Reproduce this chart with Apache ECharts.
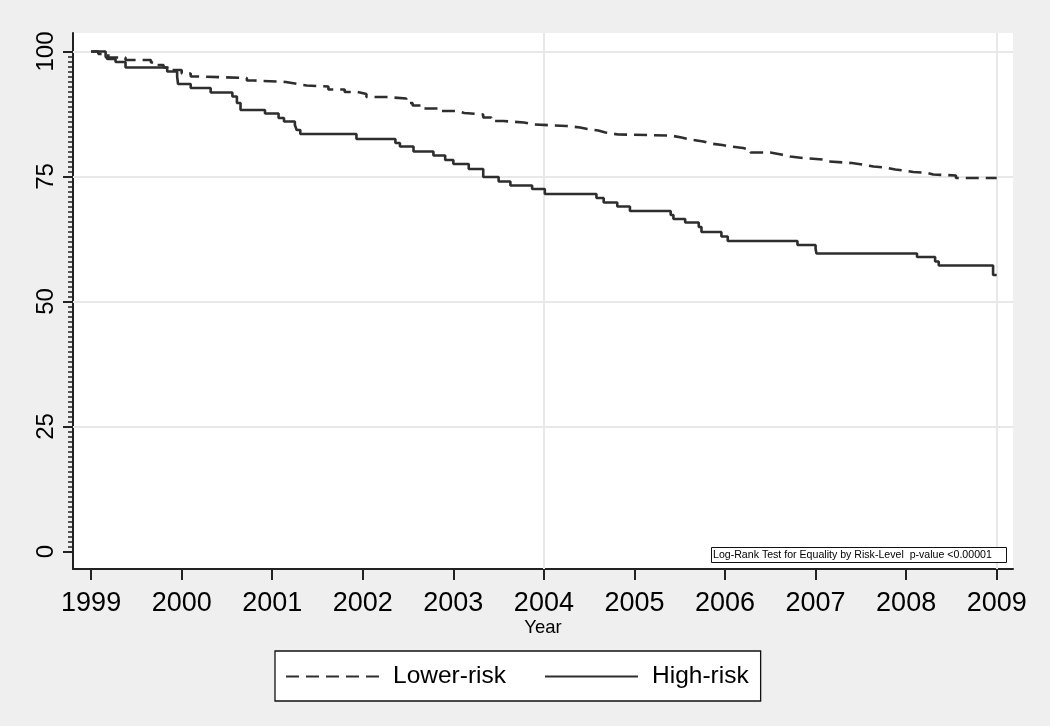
<!DOCTYPE html>
<html><head><meta charset="utf-8">
<script src="https://cdn.jsdelivr.net/npm/echarts@6/dist/echarts.min.js"></script>
<style>html,body{margin:0;padding:0;background:#efefef}#c{width:1050px;height:726px}</style>
</head><body><div id="c"></div>
<script>
const seriesNames = ['Lower-risk', 'High-risk'];
const lowTimes = [1999.00,1999.08,1999.19,1999.38,1999.66,1999.72,1999.80,1999.85,2000.00,2000.10,2000.18,2000.72,2000.80,2001.15,2001.28,2001.38,2001.62,2001.80,2001.94,2002.04,2002.26,2002.48,2002.55,2002.66,2002.86,2003.05,2003.12,2003.33,2003.42,2003.55,2003.78,2003.90,2004.25,2004.40,2004.48,2004.60,2004.68,2004.82,2005.40,2005.52,2005.62,2005.76,2005.84,2005.97,2006.06,2006.20,2006.28,2006.50,2006.62,2006.72,2006.86,2007.08,2007.15,2007.40,2007.55,2007.64,2007.77,2007.88,2007.98,2008.08,2008.24,2008.30,2008.55,2009.00];
const lowSurv  = [100,99.5,98.8,98.3,97.8,97.3,96.8,96.3,95.6,95.0,94.7,94.2,93.9,93.5,93.2,93.0,92.4,91.9,91.5,90.9,90.6,89.7,89.2,88.6,88.1,87.7,87.4,86.8,86.1,85.8,85.4,85.1,84.8,84.5,84.2,83.8,83.4,83.2,82.8,82.4,82.0,81.6,81.3,81.0,80.7,80.3,79.8,79.4,79.0,78.7,78.4,78.0,77.7,77.3,77.0,76.8,76.4,76.2,75.9,75.7,75.4,75.2,74.7,74.7];
const highTimes = [1999.00,1999.16,1999.18,1999.27,1999.38,1999.84,1999.95,1999.96,2000.10,2000.32,2000.56,2000.61,2000.65,2000.92,2001.07,2001.13,2001.25,2001.27,2001.31,2001.93,2002.36,2002.41,2002.56,2002.78,2002.91,2003.00,2003.17,2003.33,2003.50,2003.63,2003.87,2004.01,2004.58,2004.66,2004.81,2004.95,2005.40,2005.43,2005.56,2005.71,2005.74,2005.96,2006.03,2006.80,2007.00,2007.01,2008.12,2008.32,2008.36,2008.96,2009.00];
const highSurv  = [100,99.0,98.5,97.9,96.8,96.0,95.0,93.5,92.7,91.8,91.0,89.7,88.3,87.6,86.7,86.0,85.3,84.3,83.5,82.5,81.7,81.0,80.0,79.2,78.3,77.5,76.5,74.9,74.0,73.2,72.5,71.5,70.7,69.8,69.0,68.1,67.3,66.5,65.8,64.9,63.9,63.0,62.1,61.3,60.5,59.6,58.9,58.0,57.2,55.3,55.3];
const xTicks = [1999,2000,2001,2002,2003,2004,2005,2006,2007,2008,2009];
const yTicks = [0,25,50,75,100];
const yMinorTicks = Array.from({length: 101}, (_, i) => i);
const gridYValues = [25,50,75,100];
const gridXValues = [2004,2009];
const xTitle = 'Year';
const noteText = 'Log-Rank Test for Equality by Risk-Level  p-value <0.00001';

const FONT = "'Liberation Sans', Arial, sans-serif";
const INK = '#222';
const zip = (t, v) => t.map((x, i) => [x, v[i]]);

const chart = echarts.init(document.getElementById('c'), null, {renderer: 'canvas'});
chart.setOption({
  animation: false,
  backgroundColor: '#efefef',
  textStyle: {fontFamily: FONT},
  title: {
    text: noteText, left: 711, top: 547, padding: [2, 15, 2, 2],
    borderColor: '#111', borderWidth: 1, backgroundColor: '#fff',
    textStyle: {fontSize: 10.6, fontWeight: 'normal', color: '#000', fontFamily: FONT, lineHeight: 12}
  },
  legend: {
    data: seriesNames, left: 275, top: 651, orient: 'horizontal',
    itemWidth: 93, itemHeight: 14, itemGap: 38, padding: [13, 12, 12, 10],
    backgroundColor: '#fff', borderColor: '#111', borderWidth: 1.3,
    itemStyle: {opacity: 0},
    textStyle: {fontSize: 24.5, color: '#000', fontFamily: FONT, padding: [0, 0, 0, 9]}
  },
  grid: {left: 73, right: 37, top: 33, bottom: 157, show: true, backgroundColor: '#fff', borderWidth: 0, outerBoundsMode: 'none'},
  xAxis: {
    type: 'value', min: 1998.8, max: 2009.18,
    axisLine: {onZero: false, lineStyle: {color: INK, width: 2}},
    axisTick: {customValues: xTicks, length: 11, lineStyle: {color: INK, width: 2}},
    axisLabel: {customValues: xTicks, formatter: v => String(v), fontSize: 27, color: '#000', margin: 21, fontFamily: FONT},
    splitLine: {show: false},
    name: xTitle, nameLocation: 'middle', nameGap: 49, nameMoveOverlap: false,
    nameTextStyle: {fontSize: 18.5, color: '#000', fontFamily: FONT}
  },
  yAxis: [{
    type: 'value', min: -3.5, max: 103.7, position: 'left',
    axisLine: {show: true, onZero: false, lineStyle: {color: INK, width: 2}},
    axisTick: {show: true, customValues: yTicks, length: 10, lineStyle: {color: INK, width: 2}},
    axisLabel: {customValues: yTicks, rotate: 90, fontSize: 24, color: '#000', margin: 15, fontFamily: FONT},
    splitLine: {show: false}
  }, {
    type: 'value', min: -3.5, max: 103.7, position: 'left',
    axisLine: {show: false, onZero: false},
    axisTick: {show: true, customValues: yMinorTicks, length: 5, lineStyle: {color: INK, width: 1.5}},
    axisLabel: {show: false},
    splitLine: {show: false}
  }],
  series: [{
    name: seriesNames[0], type: 'line', step: 'end', symbol: 'none',
    data: zip(lowTimes, lowSurv),
    lineStyle: {color: '#2e2e2e', width: 2.6, type: [13, 7]},
    itemStyle: {color: '#2e2e2e'},
    z: 3,
    markLine: {
      silent: true, symbol: ['none', 'none'], z: 1, animation: false,
      label: {show: false},
      lineStyle: {color: '#e8e8e8', width: 2, type: 'solid'},
      data: gridYValues.map(v => ({yAxis: v})).concat(gridXValues.map(v => ({xAxis: v})))
    }
  }, {
    name: seriesNames[1], type: 'line', step: 'end', symbol: 'none',
    data: zip(highTimes, highSurv),
    lineStyle: {color: '#2e2e2e', width: 2.6, type: 'solid'},
    itemStyle: {color: '#2e2e2e'},
    z: 3
  }]
});
</script></body></html>
